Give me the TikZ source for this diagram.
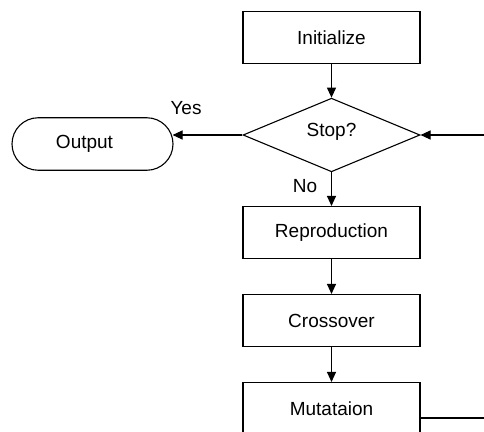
\documentclass[tikz,border=0pt]{standalone}
\usepackage{fontspec}
\setmainfont{Liberation Sans}
\usetikzlibrary{shapes.geometric,shapes.misc,arrows.meta}
\begin{document}
\begin{tikzpicture}[x=1pt,y=-1pt,
  every node/.style={font=\fontsize{19}{22}\selectfont},
  proc/.style={draw,line width=1.1pt,minimum width=177pt,minimum height=52pt,inner sep=0pt},
  decision/.style={draw,diamond,line width=1.1pt,minimum width=177pt,minimum height=70pt,inner sep=0pt,text height=13pt,text depth=11pt},
  term/.style={draw,rounded rectangle,line width=1.1pt,minimum width=161pt,minimum height=52.5pt,inner sep=0pt},
  flow/.style={line width=1.1pt,-{Triangle[length=10pt,width=9pt]}},
  plain/.style={line width=1.1pt},
  lbl/.style={inner sep=0pt,anchor=base}]
\clip (0,0) rectangle (484,431);
\fill[white] (0,0) rectangle (484,431);
\node[proc] (init) at (331.5,37.5) {Initialize};
\node[decision] (stop) at (331.5,135) {Stop?};
\node[term] (out) at (92.5,144) {Output\hspace*{16pt}};
\node[proc] (repro) at (331.5,232.5) {Reproduction};
\node[proc] (cross) at (331.5,320.5) {Crossover};
\node[proc] (mut) at (331.5,408.5) {Mutataion};
\node[lbl] (yes) at (186,114.3) {Yes};
\node[lbl] (no) at (305,192) {No};
\coordinate (loopA) at (500,418);
\coordinate (loopB) at (500,135);
\draw[flow] (init) -- (stop);
\draw[flow] (stop.west) -- ([xshift=-1pt]out.east |- stop.west);
\draw[flow] (stop) -- (repro);
\draw[flow] (repro) -- (cross);
\draw[flow] (cross) -- (mut);
\draw[flow] (mut.east |- loopA) -- (loopA) -- (loopB) -- (stop.east);
\end{tikzpicture}
\end{document}
